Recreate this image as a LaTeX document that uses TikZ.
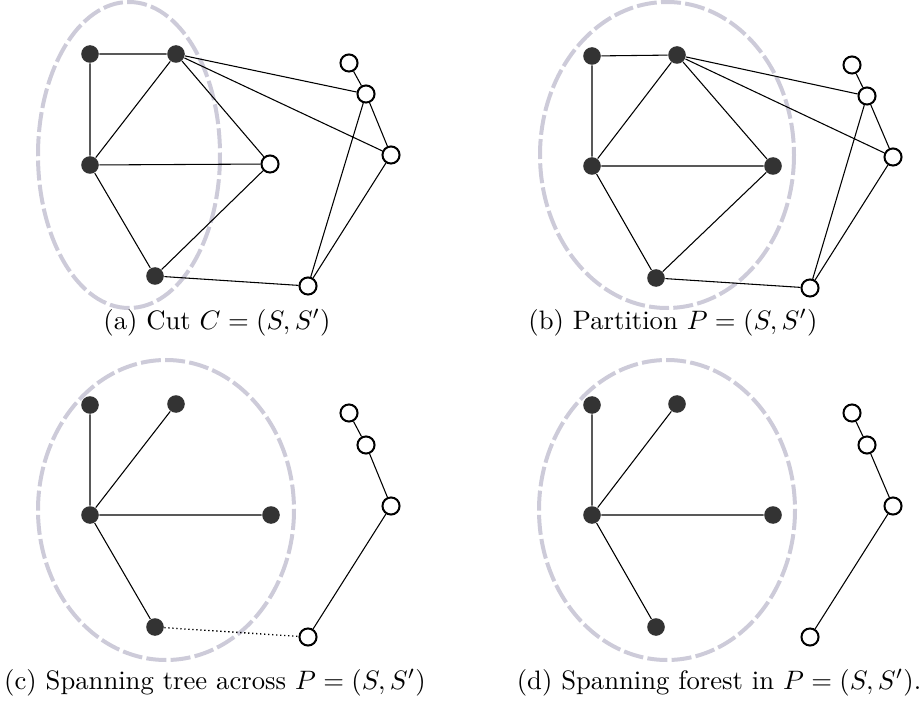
\documentclass[tikz,border=0pt]{standalone}
\usepackage{tikz}
\usepackage{xcolor}
\usetikzlibrary{shapes.geometric}
\definecolor{lilac}{HTML}{CDCBD9}
\definecolor{ink}{HTML}{333333}
\tikzset{
  invertex/.style={
    circle, fill=ink, draw=none, minimum size=6.6pt, inner sep=0pt
  },
  outvertex/.style={
    circle, fill=white, draw=black, line width=0.75pt,
    minimum size=6.4pt, inner sep=0pt
  },
  edge/.style={line width=0.4pt, color=black},
  crossedge/.style={line width=0.5pt, densely dotted},
  setboundary/.style={
    draw=lilac, line width=1.5pt, dash pattern=on 7.5pt off 1.6pt
  },
  caption/.style={font=\normalsize, anchor=base},
}

\begin{document}
\begin{tikzpicture}[x=0.375pt, y=-0.375pt]
  \useasboundingbox (0,0) rectangle (922,706);

  % (a) cut
  \draw[setboundary] (129,155) ellipse [x radius=91, y radius=153];
  \node[invertex] (a1) at (90,54) {};
  \node[invertex] (a2) at (176,54) {};
  \node[invertex] (a3) at (90,165) {};
  \node[invertex] (a4) at (155,276) {};
  \node[outvertex] (a5) at (270,164) {};
  \node[outvertex] (a6) at (349,63) {};
  \node[outvertex] (a7) at (366,94) {};
  \node[outvertex] (a8) at (391,155) {};
  \node[outvertex] (a9) at (308,286) {};
  \draw[edge] (a1) -- (a2) (a1) -- (a3) (a2) -- (a3) (a2) -- (a5)
              (a3) -- (a5) (a3) -- (a4) (a4) -- (a5) (a4) -- (a9)
              (a2) -- (a7) (a2) -- (a8) (a6) -- (a7) (a7) -- (a8)
              (a7) -- (a9) (a8) -- (a9);
  \node[caption] (capa) at (217,329) {(a) Cut $C=(S,S')$};

  % (b) partition
  \draw[setboundary] (667,155) ellipse [x radius=127, y radius=153];
  \node[invertex] (b1) at (592,56) {};
  \node[invertex] (b2) at (677,55) {};
  \node[invertex] (b3) at (592,166) {};
  \node[invertex] (b4) at (773,166) {};
  \node[invertex] (b5) at (656,278) {};
  \node[outvertex] (b6) at (852,65) {};
  \node[outvertex] (b7) at (867,96) {};
  \node[outvertex] (b8) at (893,157) {};
  \node[outvertex] (b9) at (810,288) {};
  \draw[edge] (b1) -- (b2) (b1) -- (b3) (b2) -- (b3) (b2) -- (b4)
              (b3) -- (b4) (b3) -- (b5) (b5) -- (b4) (b5) -- (b9)
              (b2) -- (b7) (b2) -- (b8) (b6) -- (b7) (b7) -- (b8)
              (b7) -- (b9) (b8) -- (b9);
  \node[caption] (capb) at (673,329) {(b) Partition $P=(S,S')$};

  % (c) spanning tree across the partition
  \draw[setboundary] (166,510) ellipse [x radius=128, y radius=150];
  \node[invertex] (c1) at (90,405) {};
  \node[invertex] (c2) at (176,404) {};
  \node[invertex] (c3) at (90,515) {};
  \node[invertex] (c4) at (271,515) {};
  \node[invertex] (c5) at (155,627) {};
  \node[outvertex] (c6) at (349,413) {};
  \node[outvertex] (c7) at (366,445) {};
  \node[outvertex] (c8) at (391,506) {};
  \node[outvertex] (c9) at (308,637) {};
  \draw[edge] (c1) -- (c3) (c2) -- (c3) (c3) -- (c4) (c3) -- (c5)
              (c6) -- (c7) (c7) -- (c8) (c8) -- (c9);
  \draw[crossedge] (c5) -- (c9);
  \node[caption] (capc) at (215,689) {(c) Spanning tree across $P=(S,S')$};

  % (d) spanning forest
  \draw[setboundary] (667,510) ellipse [x radius=128, y radius=150];
  \node[invertex] (d1) at (592,405) {};
  \node[invertex] (d2) at (677,404) {};
  \node[invertex] (d3) at (592,515) {};
  \node[invertex] (d4) at (773,515) {};
  \node[invertex] (d5) at (656,627) {};
  \node[outvertex] (d6) at (852,413) {};
  \node[outvertex] (d7) at (867,445) {};
  \node[outvertex] (d8) at (893,506) {};
  \node[outvertex] (d9) at (810,637) {};
  \draw[edge] (d1) -- (d3) (d2) -- (d3) (d3) -- (d4) (d3) -- (d5)
              (d6) -- (d7) (d7) -- (d8) (d8) -- (d9);
  \node[caption] (capd) at (719,689) {(d) Spanning forest in $P=(S,S')$.};
\end{tikzpicture}
\end{document}
